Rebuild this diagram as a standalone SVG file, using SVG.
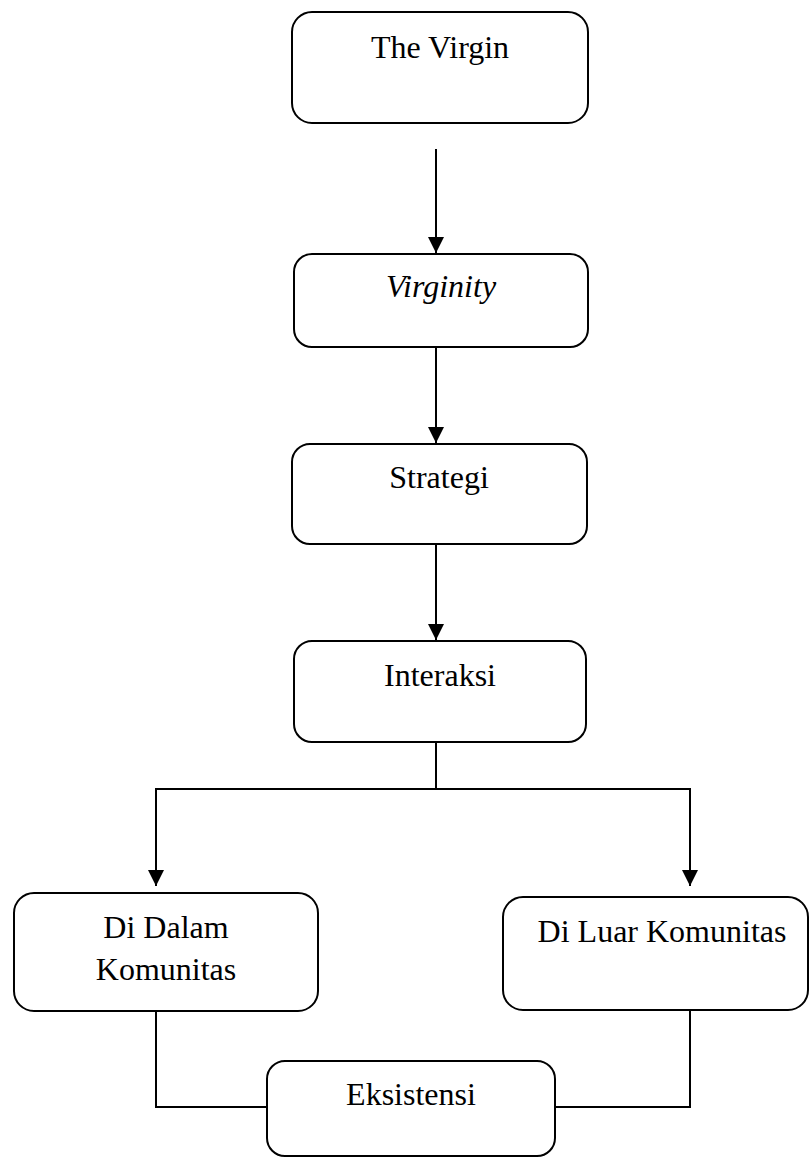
<svg xmlns="http://www.w3.org/2000/svg" width="809" height="1158" viewBox="0 0 809 1158">
<style>
.box{fill:#fff;stroke:#000;stroke-width:2}
.lbl{font-family:"Liberation Serif","Times New Roman",serif;font-size:32px;fill:#000;text-anchor:middle}
.c{fill:none;stroke:#000;stroke-width:2}
</style>
<defs>
<marker id="ad" markerUnits="userSpaceOnUse" markerWidth="16" markerHeight="16" viewBox="0 0 16 16" refX="16" refY="8" orient="auto">
<path d="M0,0 L16,8 L0,16 Z" fill="#000"/>
</marker>
</defs>
<g id="connectors">
<line class="c" x1="436" y1="149" x2="436" y2="253" marker-end="url(#ad)"/>
<line class="c" x1="436" y1="347" x2="436" y2="443" marker-end="url(#ad)"/>
<line class="c" x1="436" y1="544" x2="436" y2="640" marker-end="url(#ad)"/>
<polyline class="c" points="436,742 436,789"/>
<polyline class="c" points="156,789 690,789"/>
<line class="c" x1="156" y1="788" x2="156" y2="886" marker-end="url(#ad)"/>
<line class="c" x1="690" y1="788" x2="690" y2="886" marker-end="url(#ad)"/>
<polyline class="c" points="156,1011 156,1107 267,1107"/>
<polyline class="c" points="690,1010 690,1107 555,1107"/>
</g>
<g id="n1"><rect class="box" x="292" y="12" width="296" height="111" rx="20"/><text class="lbl" x="440" y="58">The Virgin</text></g>
<g id="n2"><rect class="box" x="294" y="254" width="294" height="93" rx="18"/><text class="lbl" x="441" y="297" font-style="italic">Virginity</text></g>
<g id="n3"><rect class="box" x="292" y="444" width="295" height="100" rx="18"/><text class="lbl" x="439" y="488">Strategi</text></g>
<g id="n4"><rect class="box" x="294" y="641" width="292" height="101" rx="18"/><text class="lbl" x="440" y="686">Interaksi</text></g>
<g id="n5"><rect class="box" x="14" y="893" width="304" height="118" rx="20"/><text class="lbl" x="166" y="938">Di Dalam</text><text class="lbl" x="166" y="980">Komunitas</text></g>
<g id="n6"><rect class="box" x="503" y="897" width="305" height="113" rx="20"/><text class="lbl" x="662" y="942">Di Luar Komunitas</text></g>
<g id="n7"><rect class="box" x="267" y="1061" width="288" height="95" rx="18"/><text class="lbl" x="411" y="1105">Eksistensi</text></g>
</svg>
